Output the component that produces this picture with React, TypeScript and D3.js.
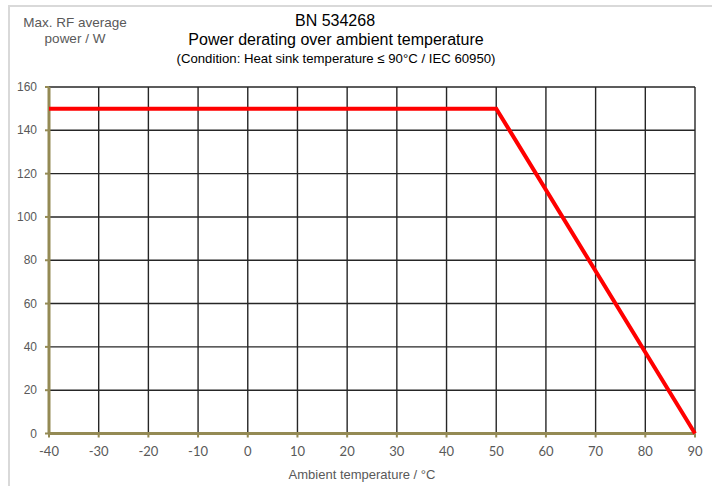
import React from "react";
import * as d3 from "d3";

const temps = [-40, 50, 90];
const power = [150, 150, 0];
const xTicks = [-40, -30, -20, -10, 0, 10, 20, 30, 40, 50, 60, 70, 80, 90];
const yTicks = [0, 20, 40, 60, 80, 100, 120, 140, 160];
const titleLines = ["BN 534268", "Power derating over ambient temperature", "(Condition: Heat sink temperature ≤ 90°C / IEC 60950)"];
const yTitleLines = ["Max. RF average", "power / W"];
const xTitle = "Ambient temperature / °C";

const W = 712, H = 486;
const margin = { left: 49, right: 17, top: 87, bottom: 52.5 };

export default function App() {
  const x = d3.scaleLinear().domain([-40, 90]).range([margin.left, W - margin.right]);
  const y = d3.scaleLinear().domain([0, 160]).range([H - margin.bottom, margin.top]);
  const data = temps.map((t, i) => [t, power[i]] as [number, number]);
  const line = d3.line<[number, number]>().x(d => x(d[0])).y(d => y(d[1]));
  const axisCol = "#948A54";
  const gridCol = "#262626";
  const tickCol = "#595959";
  const font = "'Liberation Sans', Arial, sans-serif";
  return (
    <svg width={W} height={H} style={{ position: "absolute", left: 0, top: 0, display: "block", background: "#fff" }}>
      <rect x={9} y={6} width={W + 10} height={H + 10} fill="#fff" stroke="#D9D9D9" strokeWidth={2} />
      <g fontFamily={font} textAnchor="middle">
        <text x={335} y={25.5} fontSize={16} fill="#000">{titleLines[0]}</text>
        <text x={336} y={45} fontSize={16} fill="#000">{titleLines[1]}</text>
        <text x={336} y={63} fontSize={13.2} fill="#000">{titleLines[2]}</text>
        <text x={75} y={27} fontSize={13.5} fill={tickCol}>{yTitleLines[0]}</text>
        <text x={75} y={43} fontSize={13.5} fill={tickCol}>{yTitleLines[1]}</text>
        <text x={362} y={479} fontSize={13} fill={tickCol}>{xTitle}</text>
      </g>
      {/* grid */}
      <g stroke={gridCol} strokeWidth={1.4}>
        {xTicks.filter(t => t !== -40).map(t => (
          <line key={"gx" + t} x1={x(t)} x2={x(t)} y1={y(0)} y2={y(160)} />
        ))}
        {yTicks.filter(t => t !== 0).map(t => (
          <line key={"gy" + t} x1={x(-40)} x2={x(90)} y1={y(t)} y2={y(t)} />
        ))}
      </g>
      {/* axes */}
      <g stroke={axisCol} strokeWidth={3}>
        <line x1={x(-40)} x2={x(-40)} y1={y(0)} y2={y(160)} />
        <line x1={x(-40)} x2={x(90)} y1={y(0)} y2={y(0)} />
        {xTicks.map(t => (
          <line key={"tx" + t} x1={x(t)} x2={x(t)} y1={y(0)} y2={y(0) + 4} strokeWidth={2} />
        ))}
        {yTicks.map(t => (
          <line key={"ty" + t} x1={x(-40) - 4} x2={x(-40)} y1={y(t)} y2={y(t)} strokeWidth={2} />
        ))}
      </g>
      <path d={line(data) || ""} fill="none" stroke="#FF0000" strokeWidth={4} />
      <g fontFamily={font} fontSize={12} fill={tickCol} textAnchor="end">
        {yTicks.map(t => (
          <text key={"ly" + t} x={x(-40) - 12} y={y(t) + 4}>{t}</text>
        ))}
      </g>
      <g fontFamily="Lato, 'Open Sans', sans-serif" fontSize={13} fill={tickCol} textAnchor="middle">
        {xTicks.map(t => (
          <text key={"lx" + t} x={x(t)} y={y(0) + 22}>{t}</text>
        ))}
      </g>
    </svg>
  );
}
